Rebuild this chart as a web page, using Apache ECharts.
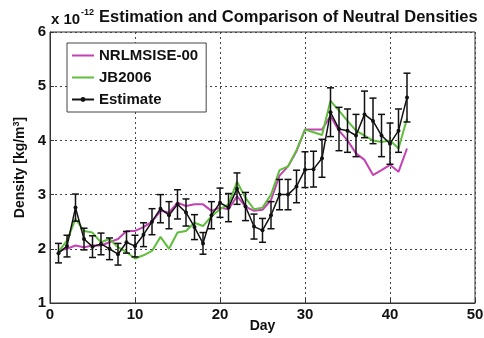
<!DOCTYPE html>
<html><head><meta charset="utf-8">
<script src="https://cdn.jsdelivr.net/npm/echarts@6/dist/echarts.min.js"></script>
<style>html,body{margin:0;padding:0;background:#fff}#c{width:484px;height:338px}</style>
</head><body><div id="c"></div>
<script>
var days = [1,2,3,4,5,6,7,8,9,10,11,12,13,14,15,16,17,18,19,20,21,22,23,24,25,26,27,28,29,30,31,32,33,34,35,36,37,38,39,40,41,42];
var nrlmsise = [1.97,2.0,2.06,2.03,2.06,2.06,2.12,2.18,2.33,2.33,2.4,2.5,2.7,2.67,2.85,2.79,2.82,2.82,2.7,2.76,2.73,2.97,2.78,2.7,2.72,2.9,3.35,3.52,3.8,4.2,4.2,4.2,4.45,4.18,4.0,3.76,3.64,3.36,3.45,3.55,3.42,3.85];
var jb2006 = [1.95,2.15,2.55,2.33,2.3,2.12,2.18,2.03,1.94,1.82,1.88,1.96,2.22,2.0,2.3,2.33,2.48,2.42,2.6,2.73,2.82,3.24,2.94,2.73,2.76,3.0,3.45,3.52,3.82,4.2,4.15,4.1,4.73,4.55,4.36,4.18,4.09,4.0,3.97,4.0,3.85,4.4];
var estimate = [1.92,2.05,2.76,2.18,2.04,2.09,2.0,1.9,2.12,2.05,2.26,2.5,2.74,2.62,2.82,2.67,2.4,2.1,2.62,2.85,2.76,3.11,2.78,2.41,2.34,2.62,3.0,3.0,3.15,3.46,3.47,3.67,4.52,4.21,4.18,4.09,4.48,4.36,4.09,3.94,4.18,4.79];
var errHalf = [0.18,0.2,0.25,0.2,0.2,0.2,0.2,0.2,0.2,0.2,0.22,0.24,0.26,0.25,0.27,0.25,0.23,0.2,0.25,0.27,0.26,0.29,0.26,0.23,0.22,0.25,0.28,0.28,0.3,0.33,0.33,0.35,0.45,0.4,0.4,0.39,0.43,0.42,0.39,0.38,0.4,0.45];
var xTicks = [0,10,20,30,40,50];
var yTicks = [1,2,3,4,5,6];

function pairs(v){ return days.map(function(d,i){ return [d, v[i]]; }); }
var errData = days.map(function(d,i){ return [d, estimate[i]-errHalf[i], estimate[i]+errHalf[i]]; });

var FONT = 'Liberation Sans';
var chart = echarts.init(document.getElementById('c'));
chart.setOption({
  animation: false,
  backgroundColor: '#fff',
  grid: {left: 50, right: 9, top: 32, bottom: 35, show: true, borderColor: '#333', borderWidth: 1, backgroundColor: 'transparent', outerBoundsMode: 'none', containLabel: false},
  graphic: [
    {type: 'text', left: 51, top: 12, style: {text: 'x 10', font: 'bold 15px ' + FONT, fill: '#111'}},
    {type: 'text', left: 81, top: 8, style: {text: '-12', font: 'bold 9px ' + FONT, fill: '#111'}},
    {type: 'text', left: 99, top: 9, style: {text: 'Estimation and Comparison of Neutral Densities', font: 'bold 16.5px ' + FONT, fill: '#111'}}
  ],
  legend: {
    orient: 'vertical', left: 67, top: 43, padding: [5, 8, 5, 4], itemGap: 7,
    itemWidth: 22, itemHeight: 6,
    borderColor: '#444', borderWidth: 1, backgroundColor: '#fff',
    textStyle: {fontFamily: FONT, fontWeight: 'bold', fontSize: 15, color: '#111'},
    data: [
      {name: 'NRLMSISE-00', itemStyle: {opacity: 0}},
      {name: 'JB2006', itemStyle: {opacity: 0}},
      {name: 'Estimate'}
    ]
  },
  xAxis: {
    type: 'value', min: xTicks[0], max: xTicks[xTicks.length-1], interval: 10,
    name: 'Day', nameLocation: 'middle', nameGap: 16, nameMoveOverlap: false,
    nameTextStyle: {fontFamily: FONT, fontWeight: 'bold', fontSize: 14, color: '#111'},
    axisLine: {show: true, onZero: false, lineStyle: {color: '#333'}},
    axisTick: {show: true, inside: true, length: 4, lineStyle: {color: '#333'}},
    axisLabel: {fontFamily: FONT, fontWeight: 'bold', fontSize: 15, color: '#111', margin: 4},
    splitLine: {show: true, lineStyle: {type: [2, 3], color: '#444', width: 1}}
  },
  yAxis: {
    type: 'value', min: yTicks[0], max: yTicks[yTicks.length-1], interval: 1,
    name: 'Density [kg/m{s|3}]', nameLocation: 'middle', nameGap: 19, nameRotate: 90,
    nameTextStyle: {fontFamily: FONT, fontWeight: 'bold', fontSize: 14, color: '#111',
      rich: {s: {fontFamily: FONT, fontWeight: 'bold', fontSize: 9, color: '#111', verticalAlign: 'top', padding: [0,0,6,0]}}},
    axisLine: {show: true, lineStyle: {color: '#333'}},
    axisTick: {show: true, inside: true, length: 4, lineStyle: {color: '#333'}},
    axisLabel: {fontFamily: FONT, fontWeight: 'bold', fontSize: 15, color: '#111', margin: 4},
    splitLine: {show: true, lineStyle: {type: [2, 3], color: '#444', width: 1}}
  },
  series: [
    {name: 'NRLMSISE-00', type: 'line', data: pairs(nrlmsise), symbol: 'none', color: '#c441b4',
     lineStyle: {width: 2, color: '#c441b4'}, z: 2},
    {name: 'JB2006', type: 'line', data: pairs(jb2006), symbol: 'none', color: '#5fbf3c',
     lineStyle: {width: 2, color: '#5fbf3c'}, z: 3},
    {name: 'Estimate', type: 'line', data: pairs(estimate), symbol: 'circle', symbolSize: 4, color: '#111',
     itemStyle: {color: '#111'}, lineStyle: {width: 1.5, color: '#111'}, z: 5},
    {name: 'err', type: 'custom', data: errData, z: 4, encode: {x: 0, y: [1, 2]},
     renderItem: function(params, api){
       var x = api.value(0);
       var lo = api.coord([x, api.value(1)]);
       var hi = api.coord([x, api.value(2)]);
       var w = 3.5;
       var st = {stroke: '#111', lineWidth: 1.5};
       return {type: 'group', children: [
         {type: 'line', shape: {x1: lo[0], y1: lo[1], x2: hi[0], y2: hi[1]}, style: st},
         {type: 'line', shape: {x1: lo[0]-w, y1: lo[1], x2: lo[0]+w, y2: lo[1]}, style: st},
         {type: 'line', shape: {x1: hi[0]-w, y1: hi[1], x2: hi[0]+w, y2: hi[1]}, style: st}
       ]};
     }}
  ]
});
</script></body></html>
